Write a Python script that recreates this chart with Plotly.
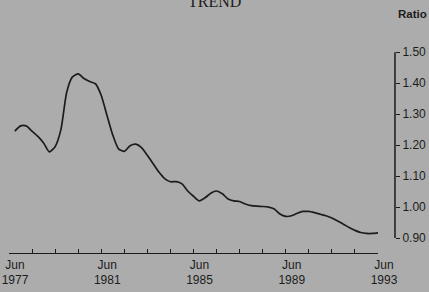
import plotly.graph_objects as go

# Quarterly trend ratio
periods = [
    "1977-09", "1977-12", "1978-03", "1978-06", "1978-09", "1978-12",
    "1979-03", "1979-06", "1979-09", "1979-12", "1980-03", "1980-06",
    "1980-09", "1980-12", "1981-03", "1981-06", "1981-09", "1981-12",
    "1982-03", "1982-06", "1982-09", "1982-12", "1983-03", "1983-06",
    "1983-09", "1983-12", "1984-03", "1984-06", "1984-09", "1984-12",
    "1985-03", "1985-06", "1985-09", "1985-12", "1986-03", "1986-06",
    "1986-09", "1986-12", "1987-03", "1987-06", "1987-09", "1987-12",
    "1988-03", "1988-06", "1988-09", "1988-12", "1989-03", "1989-06",
    "1989-09", "1989-12", "1990-03", "1990-06", "1990-09", "1990-12",
    "1991-03", "1991-06", "1991-09", "1991-12", "1992-03", "1992-06",
    "1992-09", "1992-12", "1993-03", "1993-06",
]
ratio = [
    1.245, 1.262, 1.262, 1.245, 1.228, 1.207,
    1.178, 1.195, 1.25, 1.37, 1.42, 1.43,
    1.415, 1.405, 1.398, 1.36, 1.295, 1.232,
    1.188, 1.180, 1.198, 1.203, 1.192, 1.167,
    1.14, 1.113, 1.092, 1.082, 1.082, 1.075,
    1.052, 1.035, 1.02, 1.03, 1.045, 1.052,
    1.043, 1.026, 1.02, 1.018, 1.01, 1.005,
    1.003, 1.002, 1.0, 0.994, 0.978, 0.970,
    0.972, 0.98, 0.986, 0.986, 0.982, 0.977,
    0.972, 0.965, 0.955, 0.945, 0.934, 0.925,
    0.918, 0.915, 0.915, 0.917,
]

tick_years = list(range(1977, 1994))
label_years = [1977, 1981, 1985, 1989, 1993]
y_ticks = [0.90, 1.00, 1.10, 1.20, 1.30, 1.40, 1.50]

tickvals = [f"{y}-06-01" for y in tick_years]
ticktext = [f"Jun<br>{y}" if y in label_years else "" for y in tick_years]

bg = "#acacac"
ink = "#1c1c1c"

fig = go.Figure()
fig.add_trace(go.Scatter(
    x=[p + "-01" for p in periods], y=ratio, mode="lines",
    line=dict(color=ink, width=1.7, shape="spline", smoothing=0.6),
    hoverinfo="skip", showlegend=False,
))

fig.update_layout(
    template="none",
    width=429, height=292,
    margin=dict(l=9, r=0, t=45, b=39, pad=0, autoexpand=False),
    paper_bgcolor=bg, plot_bgcolor=bg,
    font=dict(family="Liberation Sans, Arial, sans-serif", color=ink, size=11),
    xaxis=dict(
        type="date", domain=[0, 0.8786],
        range=["1977-06-01", "1993-06-01"],
        tickmode="array", tickvals=tickvals, ticktext=ticktext,
        ticks="inside", ticklen=4, tickwidth=1, tickcolor=ink,
        showline=True, linecolor=ink, linewidth=1.2,
        showgrid=False, zeroline=False, automargin=False,
        tickfont=dict(size=12), ticklabelshift=6,
    ),
    yaxis=dict(
        range=[0.852, 1.523], side="right", anchor="free", position=0.919,
        tickmode="array", tickvals=y_ticks,
        ticktext=[f"{v:.2f}" for v in y_ticks],
        ticks="outside", ticklen=4, tickwidth=1, tickcolor=ink,
        showline=False, showgrid=False, zeroline=False,
        tickfont=dict(size=12), automargin=False,
    ),
    shapes=[dict(
        type="line", xref="paper", yref="y", x0=0.919, x1=0.919,
        y0=0.90, y1=1.50, line=dict(color=ink, width=1.5),
    )],
    annotations=[
        dict(text="TREND", xref="paper", yref="paper", x=0.49, y=1.21,
             xanchor="center", yanchor="middle", showarrow=False,
             font=dict(family="Liberation Serif, serif", size=16, color=ink)),
        dict(text="<b>Ratio</b>", xref="paper", yref="paper", x=0.921, y=1.149,
             xanchor="left", yanchor="middle", showarrow=False,
             font=dict(size=11.5, color=ink)),
    ],
)

fig.write_html(
    "out.html",
    config={"displayModeBar": False},
    post_script="document.body.style.margin='0';document.body.style.background='#acacac';",
)
